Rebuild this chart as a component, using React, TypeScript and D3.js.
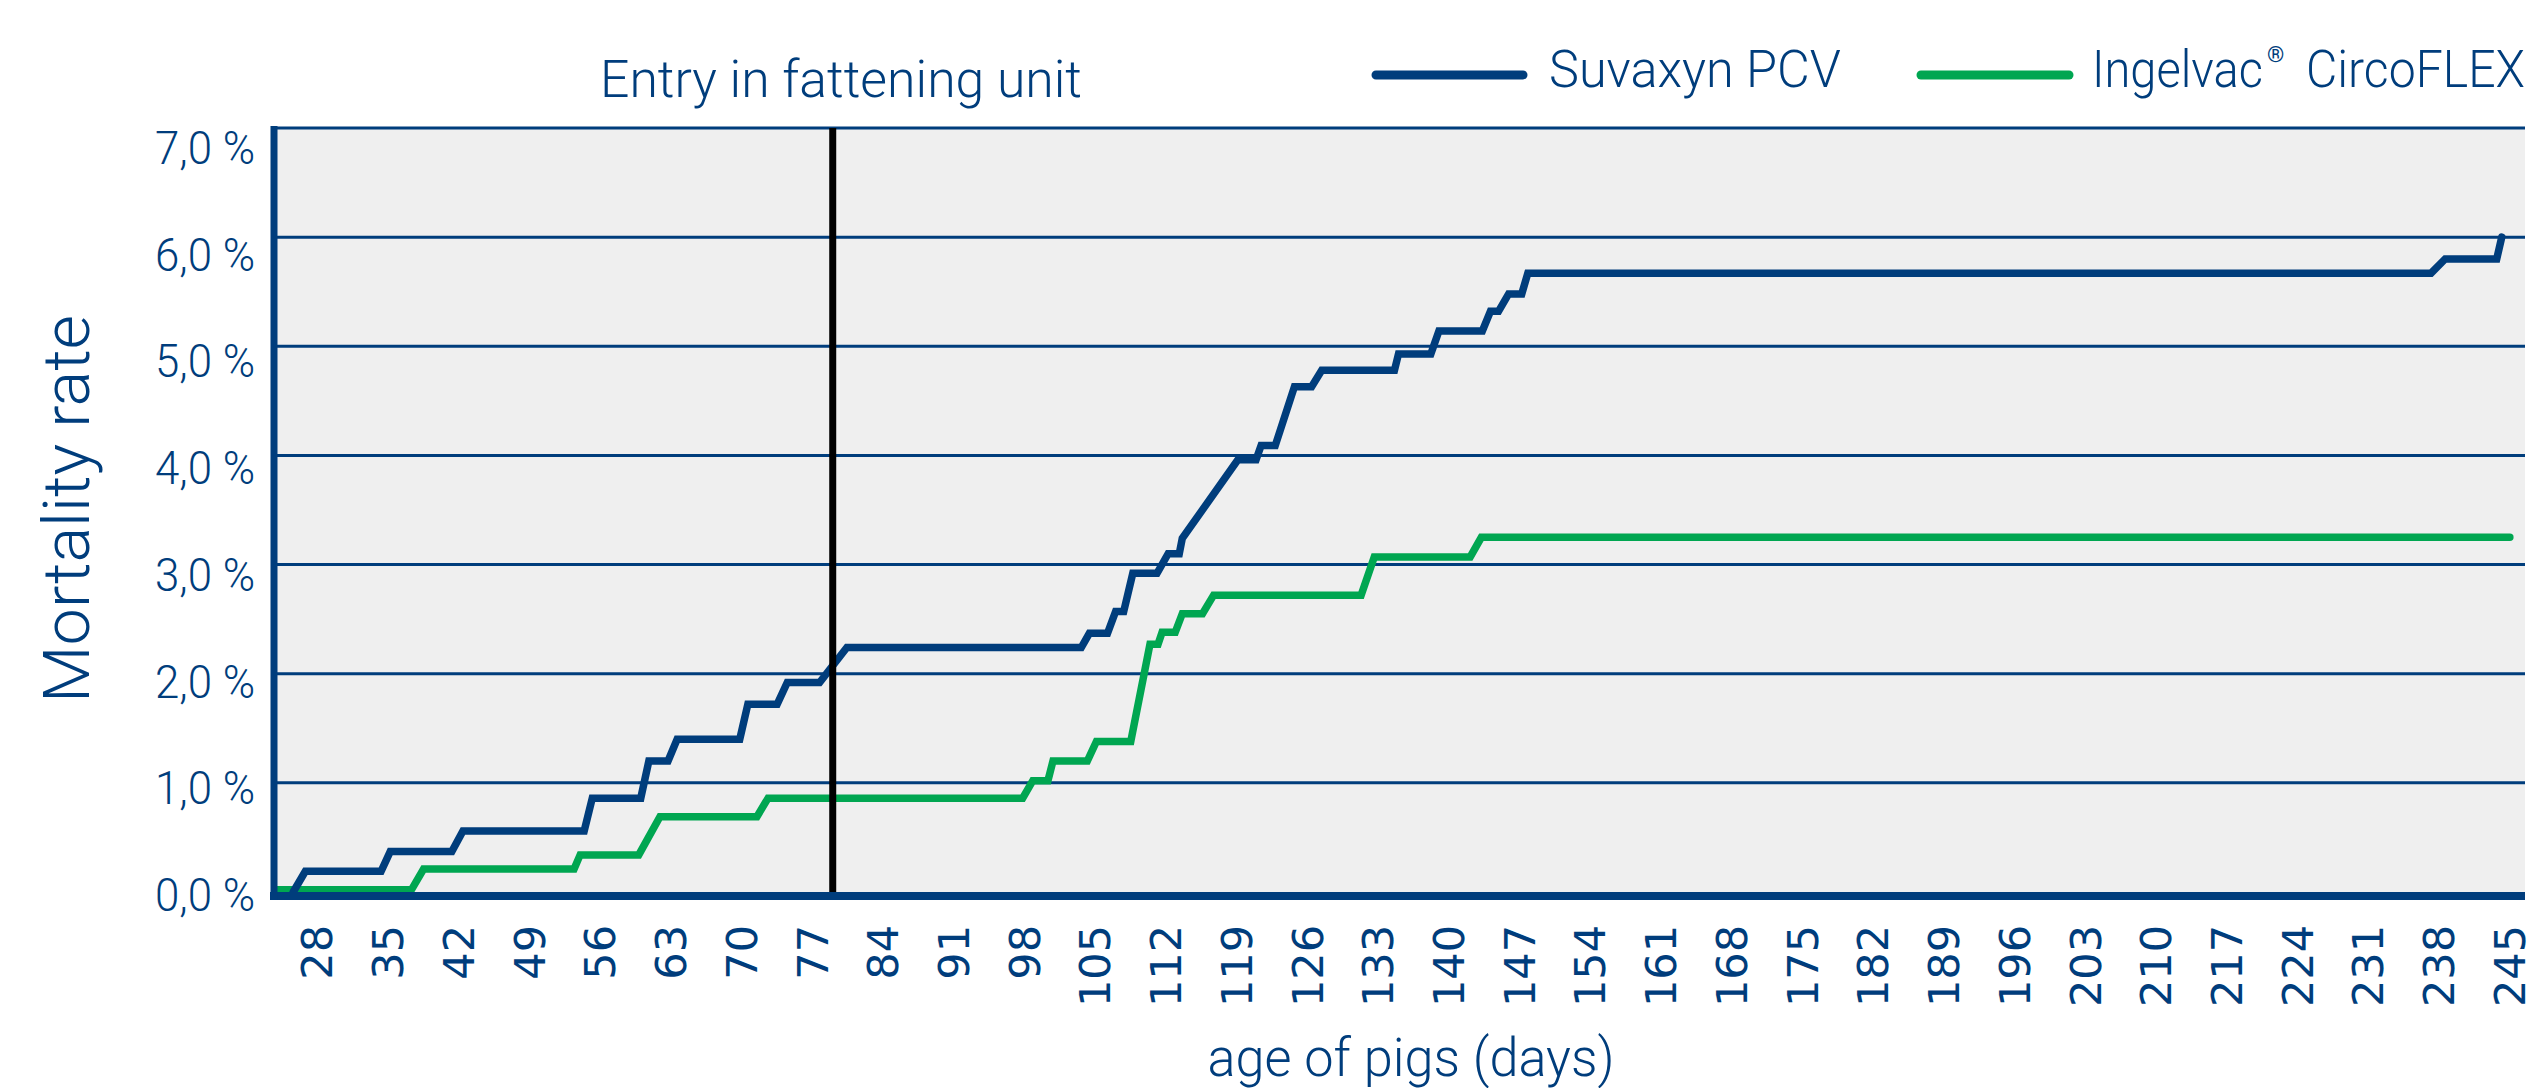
import * as d3 from "d3";

// mortality rate (%) by age of pigs (days)
const suvaxynPoints: [number, number][] = [
  [25.6, 0], [26.8, 0.19], [34.3, 0.19], [35.2, 0.37], [41.3, 0.37], [42.4, 0.56],
  [54.4, 0.56], [55.2, 0.86], [60.0, 0.86], [60.8, 1.2], [62.7, 1.2], [63.6, 1.4],
  [69.8, 1.4], [70.6, 1.72], [73.5, 1.72], [74.5, 1.92], [77.7, 1.92], [80.4, 2.24],
  [103.6, 2.24], [104.4, 2.37], [106.2, 2.37], [107.0, 2.57], [107.8, 2.57], [108.7, 2.92],
  [111.1, 2.92], [112.2, 3.1], [113.3, 3.1], [113.6, 3.24], [119.1, 3.96], [120.9, 3.96],
  [121.4, 4.09], [122.8, 4.09], [124.7, 4.63], [126.4, 4.63], [127.4, 4.78], [134.6, 4.78],
  [135.0, 4.93], [138.2, 4.93], [139.0, 5.14], [143.3, 5.14], [144.1, 5.32], [144.9, 5.32],
  [145.9, 5.48], [147.2, 5.48], [147.8, 5.67], [237.2, 5.67], [238.6, 5.8], [243.7, 5.8],
  [244.2, 6.0],
];

const circoflexPoints: [number, number][] = [
  [24, 0.02], [37.3, 0.02], [38.5, 0.21], [53.4, 0.21], [54.0, 0.34], [59.8, 0.34],
  [61.9, 0.69], [71.5, 0.69], [72.6, 0.86], [97.8, 0.86], [98.8, 1.02], [100.3, 1.02],
  [100.8, 1.2], [104.2, 1.2], [105.1, 1.38], [108.5, 1.38], [110.4, 2.27], [111.2, 2.27],
  [111.6, 2.38], [112.9, 2.38], [113.6, 2.55], [115.6, 2.55], [116.7, 2.72], [131.3, 2.72],
  [132.6, 3.07], [142.1, 3.07], [143.2, 3.25], [245, 3.25],
];

const xTicks = [
  28, 35, 42, 49, 56, 63, 70, 77, 84, 91, 98, 105, 112, 119, 126, 133,
  140, 147, 154, 161, 168, 175, 182, 189, 196, 203, 210, 217, 224, 231, 238, 245,
];
const yTicks = [0, 1, 2, 3, 4, 5, 6, 7];
const entryDay = 79;

const BLUE = "#003d7c";
const GREEN = "#00a651";
const FONT = "Roboto, 'Liberation Sans', sans-serif";

const plot = { left: 272, right: 2525, top: 128, bottom: 892 };

export default function App() {
  const x = d3.scaleLinear().domain([23.5, 246.5]).range([plot.left, plot.right]);
  const y = d3.scaleLinear().domain([0, 7]).range([plot.bottom, plot.top]);
  // labels sit a little apart from the grid lines in the original
  const yLabel = d3.scaleLinear().domain([0, 7]).range([911, 164]);
  const line = d3
    .line<[number, number]>()
    .x((d) => x(d[0]))
    .y((d) => y(d[1]));
  const fmt = (v: number) => d3.format(".1f")(v).replace(".", ",") + " %";

  return (
    <svg
      width={2532}
      height={1088}
      style={{ position: "absolute", left: 0, top: 0, background: "#fff" }}
    >
      <rect
        x={plot.left}
        y={plot.top}
        width={plot.right - plot.left}
        height={plot.bottom - plot.top}
        fill="#efefef"
      />
      {yTicks.slice(1).map((t) => (
        <line
          key={t}
          x1={plot.left}
          x2={plot.right}
          y1={y(t)}
          y2={y(t)}
          stroke={BLUE}
          strokeWidth={3}
        />
      ))}

      <path
        d={line(circoflexPoints) || ""}
        fill="none"
        stroke={GREEN}
        strokeWidth={7.5}
        strokeLinecap="round"
        strokeLinejoin="miter"
      />
      <path
        d={line(suvaxynPoints) || ""}
        fill="none"
        stroke={BLUE}
        strokeWidth={7.5}
        strokeLinecap="round"
        strokeLinejoin="miter"
      />

      <line
        x1={x(entryDay)}
        x2={x(entryDay)}
        y1={plot.top}
        y2={plot.bottom + 4}
        stroke="#000"
        strokeWidth={7}
      />

      {/* axes */}
      <line x1={plot.left - 2} x2={plot.right} y1={plot.bottom + 4} y2={plot.bottom + 4} stroke={BLUE} strokeWidth={8} />
      <line x1={plot.left + 2} x2={plot.left + 2} y1={plot.top - 2} y2={plot.bottom + 8} stroke={BLUE} strokeWidth={7} />

      {yTicks.map((t) => (
        <text
          key={t}
          x={255}
          y={yLabel(t)}
          textAnchor="end"
          fontFamily={FONT}
          fontWeight={300}
          fontSize={46}
          fill={BLUE}
          textLength={100}
          lengthAdjust="spacingAndGlyphs"
        >
          {fmt(t)}
        </text>
      ))}

      {xTicks.map((t) => (
        <text
          key={t}
          transform={`translate(${x(t)},925) rotate(-90)`}
          textAnchor="end"
          dominantBaseline="central"
          fontFamily="'DejaVu Sans', Verdana, sans-serif"
          fontSize={43}
          fill={BLUE}
        >
          {t}
        </text>
      ))}

      <text
        x={1411}
        y={1076}
        textAnchor="middle"
        fontFamily={FONT}
        fontWeight={300}
        fontSize={53}
        fill={BLUE}
        textLength={407}
        lengthAdjust="spacingAndGlyphs"
      >
        age of pigs (days)
      </text>
      <text
        transform="translate(89,509) rotate(-90)"
        textAnchor="middle"
        fontFamily={FONT}
        fontWeight={300}
        fontSize={64}
        fill={BLUE}
        textLength={388}
        lengthAdjust="spacingAndGlyphs"
      >
        Mortality rate
      </text>

      <text
        x={841}
        y={97}
        textAnchor="middle"
        fontFamily={FONT}
        fontWeight={300}
        fontSize={52}
        fill={BLUE}
        textLength={482}
        lengthAdjust="spacingAndGlyphs"
      >
        Entry in fattening unit
      </text>

      {/* legend */}
      <line x1={1376} x2={1523} y1={75} y2={75} stroke={BLUE} strokeWidth={9} strokeLinecap="round" />
      <text
        x={1549}
        y={87}
        fontFamily={FONT}
        fontWeight={300}
        fontSize={52}
        fill={BLUE}
        textLength={292}
        lengthAdjust="spacingAndGlyphs"
      >
        Suvaxyn PCV
      </text>
      <line x1={1921} x2={2069} y1={75} y2={75} stroke={GREEN} strokeWidth={9} strokeLinecap="round" />
      <text
        x={2092}
        y={87}
        fontFamily={FONT}
        fontWeight={300}
        fontSize={52}
        fill={BLUE}
        textLength={171}
        lengthAdjust="spacingAndGlyphs"
      >
        Ingelvac
      </text>
      <text x={2267} y={62} fontFamily={FONT} fontSize={22} fill={BLUE}>
        ®
      </text>
      <text
        x={2306}
        y={87}
        fontFamily={FONT}
        fontWeight={300}
        fontSize={52}
        fill={BLUE}
        textLength={219}
        lengthAdjust="spacingAndGlyphs"
      >
        CircoFLEX
      </text>
    </svg>
  );
}
